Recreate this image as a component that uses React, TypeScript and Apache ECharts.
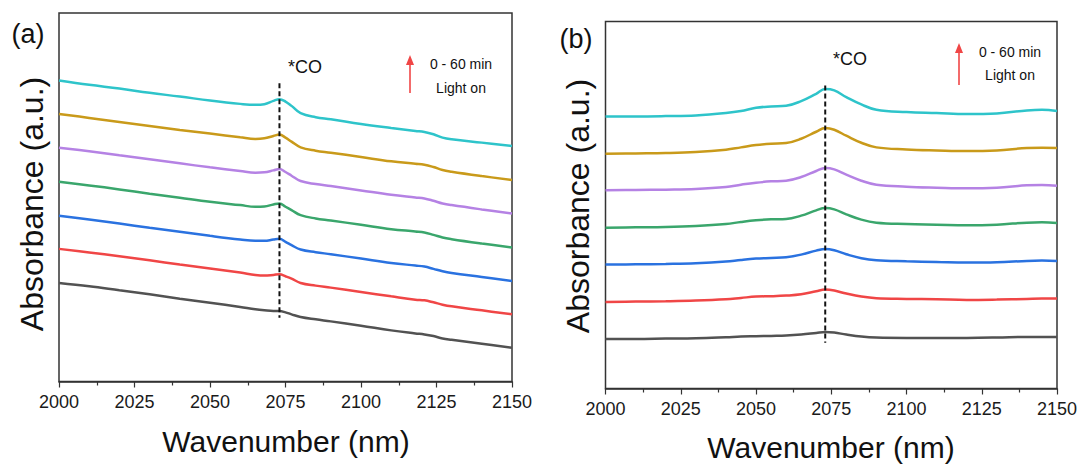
import React, { useEffect, useRef } from "react";
import * as echarts from "echarts";

// Panel (a) wavenumber sample points
const xA = [2000, 2010, 2020, 2030, 2040, 2050, 2060, 2065, 2068, 2071, 2073, 2075, 2077, 2080, 2085, 2090, 2100, 2110, 2118, 2121, 2124, 2127, 2130, 2140, 2150];
const a0 = [295, 285, 273, 261, 248, 236, 223, 216, 213, 211, 211, 207, 201, 193, 186, 180, 167, 153, 144, 141, 136, 129, 125, 113, 101];
const a10 = [397, 386, 375, 363, 350, 338, 326, 319, 317, 319, 321, 315, 308, 295, 287, 281, 268, 255, 245, 243, 237, 230, 225, 213, 201];
const a20 = [496, 485, 473, 460, 448, 436, 425, 421, 421, 425, 427, 418, 408, 395, 387, 381, 368, 355, 347, 344, 337, 330, 325, 313, 301];
const a30 = [598, 587, 575, 562, 550, 538, 528, 523, 524, 530, 533, 523, 513, 498, 488, 482, 469, 456, 449, 446, 439, 431, 426, 413, 401];
const a40 = [700, 689, 677, 665, 653, 641, 630, 625, 626, 632, 636, 627, 616, 600, 591, 585, 572, 559, 551, 548, 541, 533, 528, 515, 503];
const a50 = [801, 789, 777, 765, 753, 742, 731, 726, 728, 735, 739, 730, 718, 701, 691, 685, 672, 659, 652, 649, 642, 633, 628, 615, 603];
const a60 = [901, 888, 877, 864, 853, 841, 831, 828, 830, 840, 845, 838, 825, 803, 791, 785, 771, 759, 750, 747, 740, 730, 725, 715, 705];

// Panel (b) wavenumber sample points
const xB = [2000, 2010, 2020, 2030, 2040, 2045, 2050, 2055, 2060, 2065, 2070, 2073, 2076, 2080, 2085, 2090, 2100, 2110, 2120, 2130, 2140, 2145, 2150];
const b0 = [149, 149, 150, 151, 154, 156, 157, 158, 159, 162, 167, 170, 168, 162, 156, 153, 152, 152, 152, 153, 155, 155, 155];
const b10 = [260, 261, 262, 264, 268, 272, 276, 277, 279, 283, 292, 297, 294, 285, 276, 271, 269, 268, 266, 267, 269, 270, 270];
const b20 = [372, 373, 374, 376, 381, 386, 390, 392, 394, 402, 414, 419, 415, 403, 391, 385, 382, 380, 378, 379, 383, 384, 383];
const b30 = [483, 484, 485, 488, 494, 500, 505, 508, 509, 519, 535, 542, 538, 523, 507, 498, 494, 492, 490, 492, 498, 499, 497];
const b40 = [595, 596, 597, 599, 605, 612, 618, 622, 624, 635, 653, 662, 658, 642, 624, 612, 606, 603, 601, 603, 610, 611, 609];
const b50 = [705, 706, 707, 710, 717, 724, 731, 735, 737, 750, 771, 782, 777, 759, 738, 724, 718, 715, 713, 715, 722, 723, 722];
const b60 = [817, 817, 818, 820, 827, 833, 843, 847, 849, 863, 885, 899, 895, 875, 853, 837, 830, 827, 824, 826, 835, 837, 833];

const seriesA = [a0, a10, a20, a30, a40, a50, a60];
const seriesB = [b0, b10, b20, b30, b40, b50, b60];
const colors = ["#525252", "#f04646", "#2a72e0", "#3aa66c", "#b582e4", "#c99a1a", "#2ec4ca"];

// *CO guide lines (x, yTop, yBottom)
const coA = [2073, 893, 191];
const coB = [2073, 910, 137];

const xTicks = [2000, 2025, 2050, 2075, 2100, 2125, 2150];

const FONT = '"Liberation Sans", Arial, Helvetica, sans-serif';

export default function App() {
  const ref = useRef<HTMLDivElement>(null);
  useEffect(() => {
    document.body.style.margin = "0";
    const chart = echarts.init(ref.current!, undefined, { renderer: "svg" });
    const zip = (xs: number[], ys: number[]) => xs.map((x, i) => [x, ys[i]]);
    const lineSeries: any[] = [];
    seriesA.forEach((ys, i) => {
      lineSeries.push({
        type: "line", xAxisIndex: 0, yAxisIndex: 0, data: zip(xA, ys), smooth: 0.4,
        showSymbol: false, symbol: "none", lineStyle: { color: colors[i], width: 2.5 }, z: 2,
      });
    });
    seriesB.forEach((ys, i) => {
      lineSeries.push({
        type: "line", xAxisIndex: 1, yAxisIndex: 1, data: zip(xB, ys), smooth: 0.4,
        showSymbol: false, symbol: "none", lineStyle: { color: colors[i], width: 2.5 }, z: 2,
      });
    });
    lineSeries.push({
      type: "line", xAxisIndex: 0, yAxisIndex: 0, data: [[coA[0], coA[1]], [coA[0], coA[2]]],
      symbol: "none", lineStyle: { color: "#111", width: 2, type: [5, 3] }, z: 5,
    });
    lineSeries.push({
      type: "line", xAxisIndex: 1, yAxisIndex: 1, data: [[coB[0], coB[1]], [coB[0], coB[2]]],
      symbol: "none", lineStyle: { color: "#111", width: 2, type: [5, 3] }, z: 5,
    });

    const xAxisBase = (gi: number) => ({
      type: "value", gridIndex: gi, min: xTicks[0], max: xTicks[xTicks.length - 1], interval: 25,
      axisLine: { show: true, lineStyle: { color: "#333", width: 1.5 } },
      axisTick: { show: true, inside: false, length: 6, lineStyle: { color: "#333", width: 1.2 } },
      minorTick: { show: true, splitNumber: 2, length: 4, lineStyle: { color: "#333", width: 1.2 } },
      splitLine: { show: false },
      axisLabel: {
        show: true, margin: 11, fontSize: 18, color: "#1a1a1a", fontFamily: FONT,
        formatter: (v: number) => String(v),
      },
    });
    const yAxisBase = (gi: number, max: number) => ({
      type: "value", gridIndex: gi, min: 0, max,
      axisLine: { show: false }, axisTick: { show: false }, axisLabel: { show: false }, splitLine: { show: false },
    });

    const text = (t: string, x: number, y: number, size: number, extra: any = {}) => ({
      type: "text", x, y, ...extra,
      style: {
        text: t, font: `${size}px ${FONT}`, fill: "#111",
        align: "center", verticalAlign: "middle", textAlign: "center", textVerticalAlign: "middle",
      },
    });
    const arrow = (x: number, yTop: number, yBot: number) => ([
      { type: "line", shape: { x1: x, y1: yBot, x2: x, y2: yTop + 8 }, style: { stroke: "#f04646", lineWidth: 1.6 } },
      { type: "polygon", shape: { points: [[x - 4, yTop + 10], [x + 4, yTop + 10], [x, yTop]] }, style: { fill: "#f04646" } },
    ]);

    chart.setOption({
      animation: false,
      backgroundColor: "#fff",
      grid: [
        { left: 59, top: 13, width: 453, height: 368.5, show: true, borderColor: "#333", borderWidth: 1.5, backgroundColor: "transparent" },
        { left: 605.5, top: 21.5, width: 451.5, height: 367, show: true, borderColor: "#333", borderWidth: 1.5, backgroundColor: "transparent" },
      ],
      xAxis: [xAxisBase(0), xAxisBase(1)],
      yAxis: [yAxisBase(0, 1103), yAxisBase(1, 1102)],
      series: lineSeries,
      graphic: [
        text("(a)", 28, 34, 27),
        text("(b)", 576, 39, 27),
        text("Absorbance (a.u.)", 32, 204, 32, { rotation: Math.PI / 2 }),
        text("Absorbance (a.u.)", 578, 206, 32, { rotation: Math.PI / 2 }),
        text("Wavenumber (nm)", 286, 441, 30),
        text("Wavenumber (nm)", 831, 447, 30),
        text("*CO", 305, 67, 18),
        text("*CO", 850, 59, 18),
        text("0 - 60 min", 461, 64, 14),
        text("Light on", 461, 87.5, 14),
        text("0 - 60 min", 1010, 51.5, 14),
        text("Light on", 1010, 75, 14),
        ...arrow(410, 55, 93),
        ...arrow(959, 43, 85),
      ],
    });
    return () => chart.dispose();
  }, []);
  return <div ref={ref} style={{ position: "fixed", left: 0, top: 0, width: 1083, height: 465 }} />;
}
